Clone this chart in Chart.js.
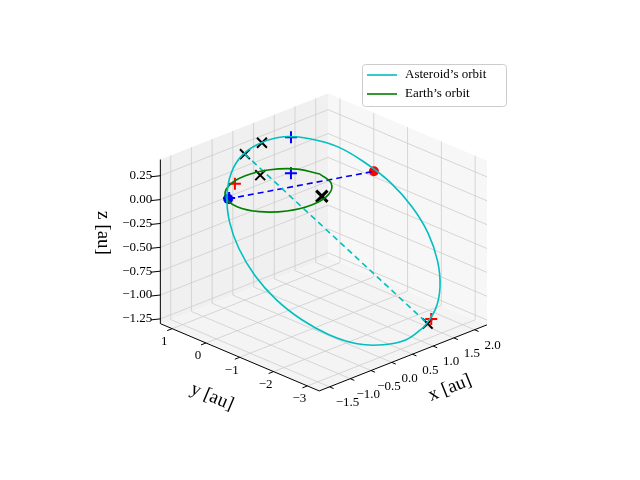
<!DOCTYPE html>
<html><head><meta charset="utf-8">
<script src="https://cdn.jsdelivr.net/npm/chart.js@4"></script>
<style>html,body{margin:0;padding:0;background:#fff}#w{width:640px;height:480px}</style>
</head><body><div id="w"><canvas id="c"></canvas></div>
<script>
// ---- data (3D, au) ----
const xTicks = [-1.5, -1.0, -0.5, 0.0, 0.5, 1.0, 1.5, 2.0];
const yTicks = [1, 0, -1, -2, -3];
const zTicks = [0.25, 0.00, -0.25, -0.50, -0.75, -1.00, -1.25];
const xRange = [-1.75, 2.3], yRange = [-3.35, 1.35], zRange = [-1.3, 0.42];
// Asteroid orbit, in-plane coordinates (along node line, across it)
const astAlpha = [2.60, 2.24, 1.79, 1.29, 0.76, 0.26, -0.20, -0.58, -0.85, -0.99, -1.00, -0.88, -0.63, -0.26, 0.18, 0.68, 1.21, 1.71, 2.17, 2.55, 2.82, 2.96, 2.97, 2.85, 2.60];
const astBeta  = [-1.73, -1.83, -1.84, -1.78, -1.63, -1.42, -1.16, -0.86, -0.54, -0.24, 0.04, 0.28, 0.45, 0.54, 0.56, 0.49, 0.35, 0.13, -0.13, -0.43, -0.74, -1.05, -1.33, -1.56, -1.73];
const planeE1 = [0.91, -0.40, 0.0];
const planeE2 = [0.20, 0.455, 0.87];
// Earth orbit
const earthX = [1, 0.866, 0.5, 0, -0.5, -0.866, -1, -0.866, -0.5, 0, 0.5, 0.866, 1];
const earthY = [0, 0.5, 0.866, 1, 0.866, 0.5, 0, -0.5, -0.866, -1, -0.866, -0.5, 0];
const earthPos = [-0.88, 0.41, 0.0];
const asteroidPos = [1.70, -0.74, 0.02];
const cyanDash = [[0.65, 1.79, 0.0], [2.10, -1.84, -1.48]];
const bluePlus = [[0.40, 0.12, 0.47], [0.66, 0.44, 0.0], [-0.84, 0.43, 0.0]];
const redPlus = [[-0.35, 0.86, 0.0], [2.17, -1.86, -1.44]];
const blackX = [[0.65, 1.79, 0.0], [1.20, 1.96, 0.0], [0.22, 0.81, 0.0], [2.10, -1.84, -1.48]];
const bigX = [[0.37, -0.83, 0.0]];

// ---- view ----
function P(x, y, z) { return {x: 277 + 42.9*x - 35*y, y: 188 - 17.1*x - 15*y - 100*z}; }
const PP = a => P(a[0], a[1], a[2]);
const astPts = astAlpha.map((a, i) => {
  const b = astBeta[i];
  return P(a*planeE1[0] + b*planeE2[0], a*planeE1[1] + b*planeE2[1], a*planeE1[2] + b*planeE2[2]);
});
const earthPts = earthX.map((x, i) => P(x, earthY[i], 0));

const F = '"Liberation Serif", "DejaVu Serif", serif';
const boxPlugin = {
  id: 'box',
  beforeDatasetsDraw(ch) {
    const c = ch.ctx, sx = ch.scales.x, sy = ch.scales.y;
    const T = p => [sx.getPixelForValue(p.x), sy.getPixelForValue(p.y)];
    const poly = (pts, fill) => { c.beginPath(); pts.forEach((p, i) => { const q = T(p); i ? c.lineTo(q[0], q[1]) : c.moveTo(q[0], q[1]); }); c.closePath(); c.fillStyle = fill; c.fill(); };
    const line = (a, b, col, w) => { const p = T(a), q = T(b); c.beginPath(); c.moveTo(p[0], p[1]); c.lineTo(q[0], q[1]); c.strokeStyle = col; c.lineWidth = w; c.stroke(); };
    const [x0, x1] = xRange, [y0, y1] = yRange, [z0, z1] = zRange;
    c.save();
    poly([P(x0,y0,z0), P(x1,y0,z0), P(x1,y1,z0), P(x0,y1,z0)], '#f4f4f4');
    poly([P(x0,y1,z0), P(x1,y1,z0), P(x1,y1,z1), P(x0,y1,z1)], '#f0f0f0');
    poly([P(x1,y0,z0), P(x1,y1,z0), P(x1,y1,z1), P(x1,y0,z1)], '#f7f7f7');
    const g = '#cdcdcd';
    xTicks.forEach(x => { line(P(x,y0,z0), P(x,y1,z0), g, 0.8); line(P(x,y1,z0), P(x,y1,z1), g, 0.8); });
    yTicks.forEach(y => { line(P(x0,y,z0), P(x1,y,z0), g, 0.8); line(P(x1,y,z0), P(x1,y,z1), g, 0.8); });
    zTicks.forEach(z => { line(P(x0,y1,z), P(x1,y1,z), g, 0.8); line(P(x1,y1,z), P(x1,y0,z), g, 0.8); });
    line(P(x0,y0,z0), P(x1,y0,z0), '#000', 1);
    line(P(x0,y0,z0), P(x0,y1,z0), '#000', 1);
    line(P(x0,y1,z0), P(x0,y1,z1), '#000', 1);
    c.fillStyle = '#000'; c.font = '13px ' + F;
    const fmt = v => (v < 0 ? '\u2212' : '') + Math.abs(v);
    xTicks.forEach(x => { line(P(x,y0,z0), P(x,y0-0.12,z0), '#000', 1); const p = T(P(x,y0,z0)); c.textAlign='center'; c.textBaseline='middle'; c.fillText((x<0?'\u2212':'') + Math.abs(x).toFixed(1), p[0]+18, p[1]+16); });
    yTicks.forEach(y => { line(P(x0,y,z0), P(x0-0.12,y,z0), '#000', 1); const p = T(P(x0,y,z0)); c.textAlign='center'; c.textBaseline='middle'; c.fillText(fmt(y), p[0]-8, p[1]+13); });
    zTicks.forEach(z => { line(P(x0,y1,z), P(x0-0.15,y1+0.1,z), '#000', 1); const p = T(P(x0,y1,z)); c.textAlign='right'; c.textBaseline='middle'; c.fillText((z<0?'\u2212':'') + Math.abs(z).toFixed(2), p[0]-8, p[1]); });
    c.textAlign = 'center';
    const lab = (t, x, y, r) => { c.save(); c.translate(x, y); c.rotate(r); c.fillText(t, 0, 0); c.restore(); };
    c.font = '19px ' + F;
    lab('x [au]', 450, 388, -0.38);
    lab('y [au]', 212, 397, 0.4);
    lab('z [au]', 103, 233, Math.PI/2);
    c.restore();
  },
  afterDraw(ch) {
    const c = ch.ctx; c.save();
    c.fillStyle = 'rgba(255,255,255,0.85)'; c.strokeStyle = '#cccccc'; c.lineWidth = 1;
    c.beginPath(); c.roundRect(362.5, 64.5, 144, 42, 3); c.fill(); c.stroke();
    c.lineWidth = 1.6;
    [['#00bfbf', 'Asteroid\u2019s orbit', 75], ['#008000', 'Earth\u2019s orbit', 94]].forEach(([col, t, y]) => {
      c.strokeStyle = col; c.beginPath(); c.moveTo(367, y); c.lineTo(397, y); c.stroke();
      c.fillStyle = '#000'; c.font = '13px ' + F; c.textBaseline = 'middle'; c.textAlign = 'left'; c.fillText(t, 405, y);
    });
    c.restore();
  }
};

new Chart(document.getElementById('c'), {
  type: 'scatter',
  data: { datasets: [
    { data: astPts, showLine: true, borderColor: '#00bfbf', borderWidth: 1.6, pointRadius: 0, tension: 0.4 },
    { data: earthPts, showLine: true, borderColor: '#008000', borderWidth: 1.6, pointRadius: 0, tension: 0.4 },
    { data: cyanDash.map(PP), showLine: true, borderColor: '#00bfbf', borderDash: [6, 4], borderWidth: 1.6, pointRadius: 0 },
    { data: [PP(earthPos), PP(asteroidPos)], showLine: true, borderColor: '#0000ff', borderDash: [6, 4], borderWidth: 1.6, pointRadius: 0 },
    { data: [PP(earthPos)], pointRadius: 5, backgroundColor: '#0000ff', borderWidth: 0 },
    { data: [PP(asteroidPos)], pointRadius: 5, backgroundColor: '#ff0000', borderWidth: 0 },
    { data: bluePlus.map(PP), pointStyle: 'cross', pointRadius: 6, borderColor: '#0000ff', borderWidth: 2 },
    { data: redPlus.map(PP), pointStyle: 'cross', pointRadius: 6, borderColor: '#ff0000', borderWidth: 2 },
    { data: blackX.map(PP), pointStyle: 'crossRot', pointRadius: 7, borderColor: '#000', borderWidth: 2 },
    { data: bigX.map(PP), pointStyle: 'crossRot', pointRadius: 8, borderColor: '#000', borderWidth: 3 }
  ]},
  options: {
    animation: false, responsive: true, maintainAspectRatio: false,
    layout: { padding: 0 },
    plugins: { legend: { display: false }, tooltip: { enabled: false } },
    scales: {
      x: { type: 'linear', min: 0, max: 640, display: false },
      y: { type: 'linear', min: 0, max: 480, reverse: true, display: false }
    }
  },
  plugins: [boxPlugin]
});
</script></body></html>
